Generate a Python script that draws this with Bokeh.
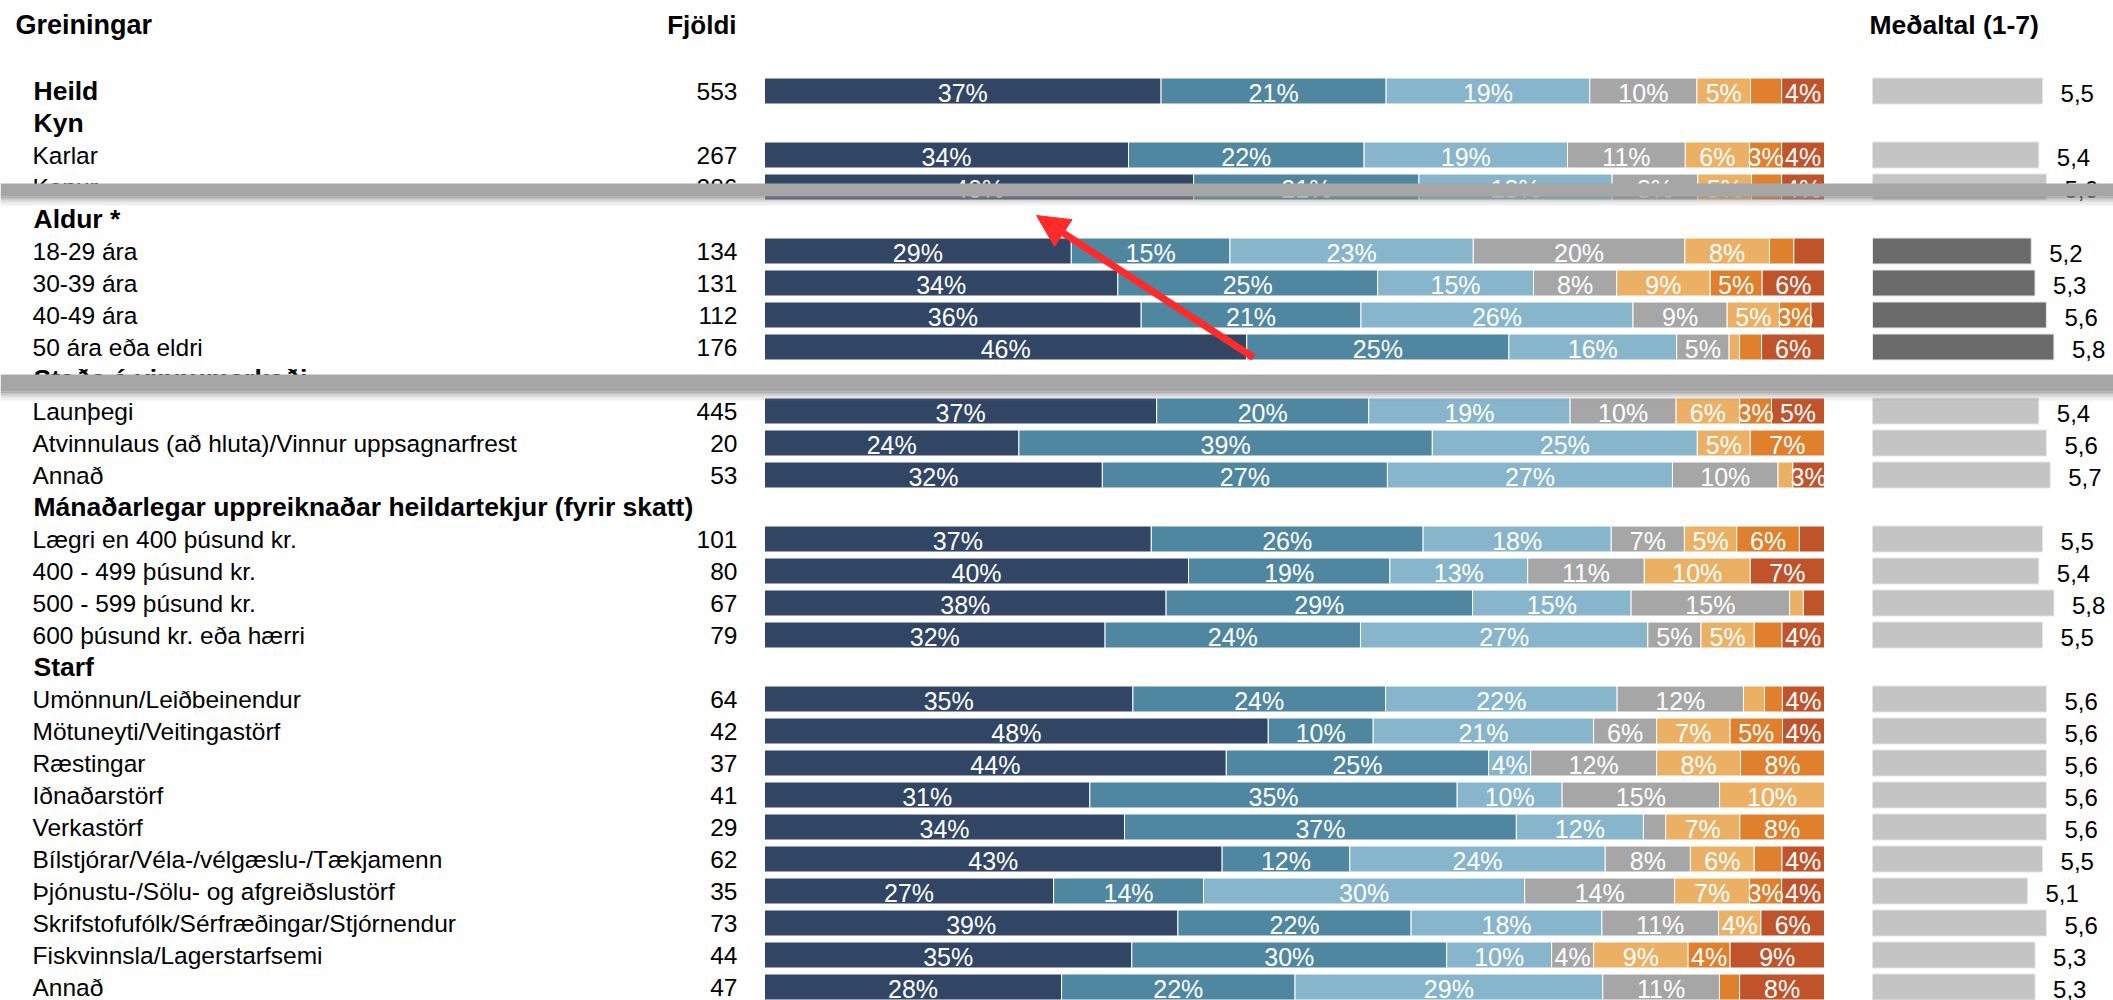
from bokeh.plotting import figure
from bokeh.models import Range1d, ColumnDataSource, BoxAnnotation, Arrow, NormalHead
from bokeh.core.properties import value
from bokeh.embed import file_html
from bokeh.resources import INLINE

# ---------------- data ----------------
row_labels = [
    "Heild", "Kyn", "Karlar", "Konur", "Aldur *", "18-29 ára", "30-39 ára", "40-49 ára",
    "50 ára eða eldri", "Staða á vinnumarkaði", "Launþegi",
    "Atvinnulaus (að hluta)/Vinnur uppsagnarfrest", "Annað",
    "Mánaðarlegar uppreiknaðar heildartekjur (fyrir skatt)", "Lægri en 400 þúsund kr.",
    "400 - 499 þúsund kr.", "500 - 599 þúsund kr.", "600 þúsund kr. eða hærri", "Starf",
    "Umönnun/Leiðbeinendur", "Mötuneyti/Veitingastörf", "Ræstingar", "Iðnaðarstörf",
    "Verkastörf", "Bílstjórar/Véla-/vélgæslu-/Tækjamenn", "Þjónustu-/Sölu- og afgreiðslustörf",
    "Skrifstofufólk/Sérfræðingar/Stjórnendur", "Fiskvinnsla/Lagerstarfsemi", "Annað",
]
row_type = ["total", "header", "item", "item", "header", "item", "item", "item", "item",
            "header", "item", "item", "item", "header", "item", "item", "item", "item",
            "header", "item", "item", "item", "item", "item", "item", "item", "item", "item", "item"]
fjoldi = [553, None, 267, 286, None, 134, 131, 112, 176, None, 445, 20, 53, None, 101, 80, 67, 79,
          None, 64, 42, 37, 41, 29, 62, 35, 73, 44, 47]

# answer categories (1st .. 7th segment), percent
s1 = [37, None, 34, 40, None, 29, 34, 36, 46, None, 37, 24, 32, None, 37, 40, 38, 32, None, 35, 48, 44, 31, 34, 43, 27, 39, 35, 28]
s2 = [21, None, 22, 21, None, 15, 25, 21, 25, None, 20, 39, 27, None, 26, 19, 29, 24, None, 24, 10, 25, 35, 37, 12, 14, 22, 30, 22]
s3 = [19, None, 19, 18, None, 23, 15, 26, 16, None, 19, 25, 27, None, 18, 13, 15, 27, None, 22, 21, 4, 10, 12, 24, 30, 18, 10, 29]
s4 = [10, None, 11, 8, None, 20, 8, 9, 5, None, 10, 0, 10, None, 7, 11, 15, 5, None, 12, 6, 12, 15, 2.1, 8, 14, 11, 4, 11]
s5 = [5, None, 6, 5, None, 8, 9, 5, 1.0, None, 6, 5, 1.4, None, 5, 10, 1.3, 5, None, 2.0, 7, 8, 10, 7, 6, 7, 4, 9, 0]
s6 = [2.9, None, 3, 2.8, None, 2.3, 5, 3, 2.1, None, 3, 7, 0, None, 6, 0, 0, 2.6, None, 1.7, 5, 8, 0, 8, 2.6, 3, 0, 4, 1.9]
s7 = [4, None, 4, 4, None, 2.9, 6, 1.3, 6, None, 5, 0, 3, None, 2.4, 7, 2.0, 4, None, 4, 4, 0, 0, 0, 4, 4, 6, 9, 8]

medaltal = [5.5, None, 5.4, 5.6, None, 5.2, 5.3, 5.6, 5.8, None, 5.4, 5.6, 5.7, None, 5.5, 5.4, 5.8, 5.5,
            None, 5.6, 5.6, 5.6, 5.6, 5.6, 5.5, 5.1, 5.6, 5.3, 5.3]

series = [s1, s2, s3, s4, s5, s6, s7]
seg_colors = ["#314565", "#4f87a1", "#87b5cb", "#a6a6a6", "#ecb065", "#e1802c", "#c1532b"]

# ---------------- layout helpers ----------------
ROW0, PITCH = 90.5, 32.0          # pixel centre of first row, row pitch
FRAME_TOP, FRAME_BOT = 0, 1000
FRAME_L, FRAME_R = 0, 2113

def py(Y):  # pixel y -> row units
    return (Y - ROW0) / PITCH

BAR_L, BAR_R = 764, 1824          # pixel extent of 0..100 %
MEAN_X0, MEAN_PX = 1872, 37.8     # pixel of mean=1, pixels per unit

pct_start = -(BAR_L - FRAME_L) / (BAR_R - BAR_L) * 100
pct_end = pct_start + (FRAME_R - FRAME_L) / (BAR_R - BAR_L) * 100
mean_start = 1 - (MEAN_X0 - FRAME_L) / MEAN_PX
mean_end = mean_start + (FRAME_R - FRAME_L) / MEAN_PX

p = figure(width=FRAME_R - FRAME_L, height=FRAME_BOT - FRAME_TOP,
           x_range=Range1d(FRAME_L, FRAME_R), y_range=Range1d(py(FRAME_BOT), py(FRAME_TOP)),
           output_backend="svg", toolbar_location=None, min_border=0,
           x_axis_location=None, y_axis_location=None)
p.extra_x_ranges = {"pct": Range1d(pct_start, pct_end), "mean": Range1d(mean_start, mean_end)}
p.xgrid.visible = False
p.ygrid.visible = False
p.outline_line_color = None
p.background_fill_color = "white"
p.border_fill_color = "white"

FONT = value("Liberation Sans")

# ---------------- stacked bars ----------------
seg = dict(left=[], right=[], y=[], color=[])
lab = dict(x=[], y=[], text=[])
for i, t in enumerate(row_type):
    if t == "header":
        continue
    vals = [s[i] for s in series]
    tot = sum(vals)
    cum = 0.0
    for k, v in enumerate(vals):
        if v <= 0:
            continue
        l = cum / tot * 100
        r = (cum + v) / tot * 100
        seg["left"].append(l); seg["right"].append(r); seg["y"].append(i); seg["color"].append(seg_colors[k])
        if v >= 3:
            lab["x"].append((l + r) / 2); lab["y"].append(i); lab["text"].append(f"{round(v)}%")
        cum += v

p.hbar(y="y", left="left", right="right", height=26 / PITCH, color="color",
       line_color="white", line_width=1, source=ColumnDataSource(seg), x_range_name="pct")
p.text(x="x", y="y", text="text", source=ColumnDataSource(lab), x_range_name="pct",
       text_color="white", text_font=FONT, text_font_size="25px", text_align="center",
       text_baseline="middle", y_offset=2)

# ---------------- mean bars ----------------
mb = dict(y=[], right=[], color=[], text=[])
for i, m in enumerate(medaltal):
    if m is None:
        continue
    mb["y"].append(i); mb["right"].append(m)
    mb["color"].append("#6b6b6b" if 4 < i < 9 else "#c4c4c4")
    mb["text"].append(f"{m:.1f}".replace(".", ","))
msrc = ColumnDataSource(mb)
p.hbar(y="y", left=1, right="right", height=26 / PITCH, color="color", line_color="#e6e6e6",
       line_width=1, source=msrc, x_range_name="mean")
p.text(x="right", y="y", text="text", source=msrc, x_range_name="mean", x_offset=18, y_offset=2,
       text_color="black", text_font=FONT, text_font_size="24px", text_align="left",
       text_baseline="middle")

# ---------------- row labels and counts ----------------
reg = dict(y=[], text=[])
bold = dict(y=[], text=[])
cnt = dict(y=[], text=[])
for i, (name, t) in enumerate(zip(row_labels, row_type)):
    if t == "item":
        reg["y"].append(i); reg["text"].append(name)
    else:
        bold["y"].append(i); bold["text"].append(name)
    if fjoldi[i] is not None:
        cnt["y"].append(i); cnt["text"].append(str(fjoldi[i]))

p.text(x=32, y="y", text="text", source=ColumnDataSource(reg), text_font=FONT,
       text_font_size="24.5px", text_baseline="middle", y_offset=0, text_color="black")
p.text(x=33, y="y", text="text", source=ColumnDataSource(bold), text_font=FONT,
       text_font_size="26.5px", text_font_style="bold", text_baseline="middle", y_offset=0,
       text_color="black")
p.text(x=737, y="y", text="text", source=ColumnDataSource(cnt), text_font=FONT,
       text_font_size="24.5px", text_baseline="middle", text_align="right", y_offset=0.5,
       text_color="black")

# column headers
p.text(x=[15], y=[py(24)], text=["Greiningar"], text_font=FONT, text_font_size="27px",
       text_font_style="bold", text_baseline="middle")
p.text(x=[736], y=[py(24)], text=["Fjöldi"], text_font=FONT, text_font_size="26px",
       text_font_style="bold", text_baseline="middle", text_align="right")
p.text(x=[1869], y=[py(24)], text=["Meðaltal (1-7)"], text_font=FONT, text_font_size="26.5px",
       text_font_style="bold", text_baseline="middle")

# ---------------- overlay bands and arrow ----------------
def band(y0, y1, y2):
    p.add_layout(BoxAnnotation(top=py(y0), bottom=py(y1), fill_color="#a6a6a6", fill_alpha=1.0,
                               line_color=None, level="overlay"))
    steps = [(0.7, 2), (0.45, 2), (0.28, 2), (0.14, 3)]
    y = y1
    for a, h in steps:
        p.add_layout(BoxAnnotation(top=py(y), bottom=py(min(y + h, y2)), fill_color="#8c8c8c",
                                   fill_alpha=a, line_color=None, level="overlay"))
        y += h

band(183, 196, 205)
band(374, 391, 400)

p.add_layout(Arrow(x_start=1253, y_start=py(357), x_end=1036, y_end=py(215),
                   line_color="#ff2a2a", line_width=7, level="overlay",
                   end=NormalHead(size=32, fill_color="#ff2a2a", line_color="#ff2a2a", line_width=1)))

open("out.html", "w").write(file_html(p, INLINE))
